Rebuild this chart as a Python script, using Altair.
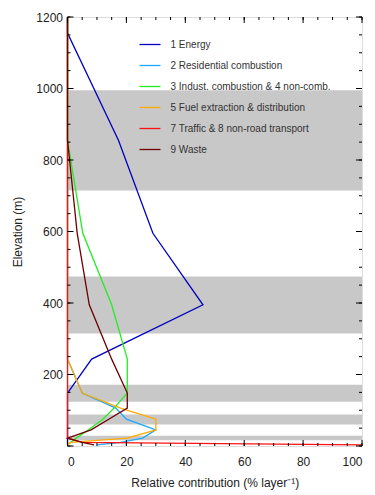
import altair as alt
import pandas as pd

# elevation levels (m) of the profile vertices
levels = [1200, 1155, 855, 595, 395, 243, 148, 106, 75, 45, 22, 10, 3]

energy      = [0, 0, 17.3, 29.0, 46.0, 8.2, 0, 0, 0, 0, 0, 0, 0]
residential = [0, 0, 0, 0, 0, 0, 5.0, 16.4, 20.0, 30.0, 25.5, 18.0, 10.0]
industry    = [0, 0, 0, 5.2, 15.0, 20.3, 20.3, 15.8, 12.0, 7.0, 3.0, 1.0, 0]
fuel        = [0, 0, 0, 0, 0, 0, 5.0, 18.0, 30.0, 30.0, 20.3, 1.0, 0]
traffic     = [0, 0, 0, 0, 0, 0, 0, 0, 0, 0, 0, 5.0, 100.0]
waste       = [0, 0, 0, 3.3, 7.4, 15.0, 20.3, 20.3, 14.0, 8.0, 0, 5.0, 9.0]

series_names = ["1 Energy", "2 Residential combustion",
                "3 Indust. combustion & 4 non-comb.",
                "5 Fuel extraction & distribution",
                "7 Traffic & 8 non-road transport", "9 Waste"]
series_vals = [energy, residential, industry, fuel, traffic, waste]
series_colors = ["#0000c0", "#19aaff", "#22ee22", "#ffaa00", "#ff1111", "#6e0000"]

band_lo = [715, 315, 124, 60, 16]
band_hi = [995, 474, 171, 88, 29]

x_major = [0, 20, 40, 60, 80, 100]
x_minor = [0, 5, 10, 15, 20, 25, 30, 35, 40, 45, 50, 55, 60, 65, 70, 75, 80, 85, 90, 95, 100]
y_labels = [200, 400, 600, 800, 1000, 1200]
y_major = [0, 200, 400, 600, 800, 1000, 1200]
y_minor = [0, 50, 100, 150, 200, 250, 300, 350, 400, 450, 500, 550, 600, 650, 700,
           750, 800, 850, 900, 950, 1000, 1050, 1100, 1150, 1200]

W = 294.5
H = 429

rows = []
for name, vals in zip(series_names, series_vals):
    for e, v in zip(levels, vals):
        rows.append({"series": name, "elev": e, "val": v})
lines_df = pd.DataFrame(rows)
bands_df = pd.DataFrame({"elev": band_lo, "hi": band_hi})

FONT = "Liberation Sans"
xscale = alt.Scale(domain=[0, 100], nice=False, zero=False)
yscale = alt.Scale(domain=[0, 1200], nice=False, zero=False)

x_axis = alt.Axis(values=x_major, ticks=False, domain=False, grid=False, format="d",
                  labelPadding=10, labelFontSize=12, labelFont=FONT,
                  labelColor="#222", title="Relative contribution (% layer\u207b\u00b9)",
                  titleFont=FONT, titleFontSize=12, titleFontWeight="normal",
                  titleColor="#222", titlePadding=10)
y_axis = alt.Axis(values=y_labels, ticks=False, domain=False, grid=False, format="d",
                  labelPadding=5, labelFontSize=12, labelFont=FONT,
                  labelColor="#222", title="Elevation (m)",
                  titleFont=FONT, titleFontSize=12, titleFontWeight="normal",
                  titleColor="#222", titlePadding=11)

bands = alt.Chart(bands_df).mark_rect(color="#c8c8c8").encode(
    y=alt.Y("elev:Q", scale=yscale, axis=y_axis),
    y2="hi:Q",
    x=alt.value(0),
    x2=alt.value(W),
)

lines = alt.Chart(lines_df).mark_line(strokeWidth=1.3).encode(
    x=alt.X("val:Q", scale=xscale, axis=x_axis),
    y=alt.Y("elev:Q", scale=yscale, axis=y_axis),
    color=alt.Color("series:N",
                    scale=alt.Scale(domain=series_names, range=series_colors),
                    legend=alt.Legend(orient="none", legendX=71, legendY=16, title=None,
                                      symbolType="stroke", symbolSize=441,
                                      symbolStrokeWidth=1.3, labelFontSize=10,
                                      labelFont=FONT, labelColor="#333", labelLimit=400,
                                      labelOffset=9, rowPadding=4, padding=0)),
    order=alt.Order("elev:Q"),
)

def xticks(vals, y0, y1):
    return alt.Chart(pd.DataFrame({"val": vals})).mark_rule(color="black", strokeWidth=1).encode(
        x=alt.X("val:Q", scale=xscale, axis=x_axis), y=alt.value(y0), y2=alt.value(y1))

def yticks(vals, x0, x1):
    return alt.Chart(pd.DataFrame({"elev": vals})).mark_rule(color="black", strokeWidth=1).encode(
        y=alt.Y("elev:Q", scale=yscale, axis=y_axis), x=alt.value(x0), x2=alt.value(x1))

ticks = [
    xticks(x_major, H, H - 6), xticks(x_minor, H, H - 3),
    xticks(x_major, 0, 6), xticks(x_minor, 0, 3),
    yticks(y_major, 0, 6), yticks(y_minor, 0, 3),
    yticks(y_major, W, W - 6), yticks(y_minor, W, W - 3),
]

chart = alt.layer(bands, lines, *ticks).properties(
    width=W, height=H,
    autosize=alt.AutoSizeParams(type="none"),
    padding={"left": 59.5, "top": 9, "right": 5, "bottom": 48},
).configure_view(
    stroke="black", strokeWidth=1, fill="#f8f8f8"
).configure(background="white")

chart.save("out.html", embed_options={"renderer": "svg", "actions": False})
